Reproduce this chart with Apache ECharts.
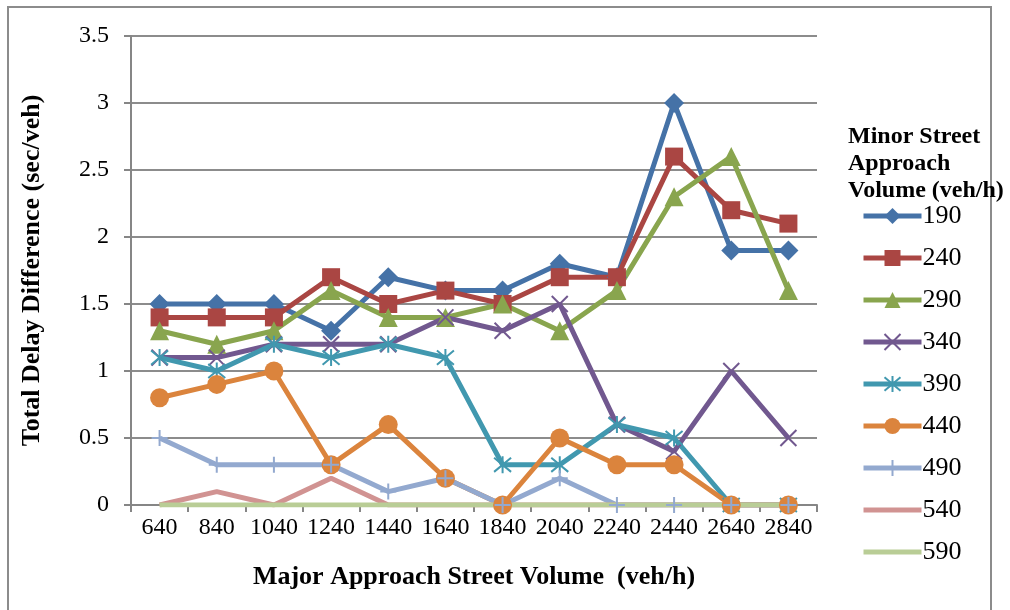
<!DOCTYPE html>
<html>
<head>
<meta charset="utf-8">
<script src="https://cdn.jsdelivr.net/npm/echarts@6/dist/echarts.min.js"></script>
<style>html,body{margin:0;padding:0;background:#fff;}#c{width:1010px;height:610px;}</style>
</head>
<body>
<div id="c"></div>
<script>
const categories = ['640','840','1040','1240','1440','1640','1840','2040','2240','2440','2640','2840'];
const s190 = [1.5,1.5,1.5,1.3,1.7,1.6,1.6,1.8,1.7,3.0,1.9,1.9];
const s240 = [1.4,1.4,1.4,1.7,1.5,1.6,1.5,1.7,1.7,2.6,2.2,2.1];
const s290 = [1.3,1.2,1.3,1.6,1.4,1.4,1.5,1.3,1.6,2.3,2.6,1.6];
const s340 = [1.1,1.1,1.2,1.2,1.2,1.4,1.3,1.5,0.6,0.4,1.0,0.5];
const s390 = [1.1,1.0,1.2,1.1,1.2,1.1,0.3,0.3,0.6,0.5,0,0];
const s440 = [0.8,0.9,1.0,0.3,0.6,0.2,0,0.5,0.3,0.3,0,0];
const s490 = [0.5,0.3,0.3,0.3,0.1,0.2,0,0.2,0,0,0,0];
const s540 = [0,0.1,0,0.2,0,0,0,0,0,0,0,0];
const s590 = [0,0,0,0,0,0,0,0,0,0,0,0];
const seriesNames = ['190','240','290','340','390','440','490','540','590'];
const seriesData = [s190,s240,s290,s340,s390,s440,s490,s540,s590];
const colors = ['#4572A7','#AA4643','#89A54E','#71588F','#4198AF','#DB843D','#93A9CF','#D19392','#B9CD96'];
const symbols = ['diamond','rect','triangle','path://M0,0L10,10M10,0L0,10','path://M0,0L10,10M10,0L0,10M5,-1L5,11','circle','path://M5,0L5,10M0,5L10,5','none','none'];
const symbolSizes = [20,18,19,16,17,19,16,0,0];
const stroked = [false,false,false,true,true,false,true,false,false];

const font = '"Liberation Serif","Times New Roman",serif';
const series = seriesNames.map((n,i)=>({
  name:n, type:'line', data:seriesData[i],
  symbol:symbols[i], symbolSize:symbolSizes[i], showSymbol: symbols[i]!=='none',
  lineStyle:{color:colors[i], width:5},
  itemStyle:{color:colors[i], borderColor:colors[i], borderWidth: stroked[i]?2:0},
  emphasis:{disabled:true}, animation:false
}));

const legendData = seriesNames.map((n,i)=> symbols[i]==='none'
  ? {name:n, itemStyle:{opacity:0}} : {name:n});

const chart = echarts.init(document.getElementById('c'));
chart.setOption({
  animation:false,
  color:colors,
  grid:{left:131,right:193,top:36,bottom:105},
  graphic:[{type:'rect',shape:{x:8,y:7,width:983,height:640},style:{fill:'none',stroke:'#8c8c8c',lineWidth:2},z:-10}],
  title:{text:'Minor Street\nApproach\nVolume (veh/h)',left:843,top:118,
    textStyle:{fontFamily:font,fontWeight:'bold',fontSize:24,lineHeight:27,color:'#000'}},
  legend:{orient:'vertical',left:856,top:198,itemWidth:58,itemHeight:20,itemGap:16,
    lineStyle:{width:5},
    textStyle:{fontFamily:font,fontSize:26,color:'#000',padding:[0,0,0,-4]},
    data:legendData},
  xAxis:{type:'category',data:categories,boundaryGap:true,
    axisLine:{lineStyle:{color:'#868686',width:2}},
    axisTick:{show:true,length:7,lineStyle:{color:'#868686',width:2}},
    axisLabel:{fontFamily:font,fontSize:24,color:'#000',margin:11,interval:0},
    name:'Major Approach Street Volume  (veh/h)',nameLocation:'middle',nameGap:59,
    nameTextStyle:{fontFamily:font,fontWeight:'bold',fontSize:26,color:'#000'}},
  yAxis:{type:'value',min:0,max:3.5,interval:0.5,
    axisLine:{show:true,lineStyle:{color:'#868686',width:2}},
    axisTick:{show:true,length:7,lineStyle:{color:'#868686',width:2}},
    splitLine:{lineStyle:{color:'#8c8c8c',width:2}},
    axisLabel:{fontFamily:font,fontSize:24,color:'#000',margin:22},
    name:'Total Delay Difference (sec/veh)',nameLocation:'middle',nameGap:86,
    nameTextStyle:{fontFamily:font,fontWeight:'bold',fontSize:26,color:'#000'}},
  series:series
});
</script>
</body>
</html>
